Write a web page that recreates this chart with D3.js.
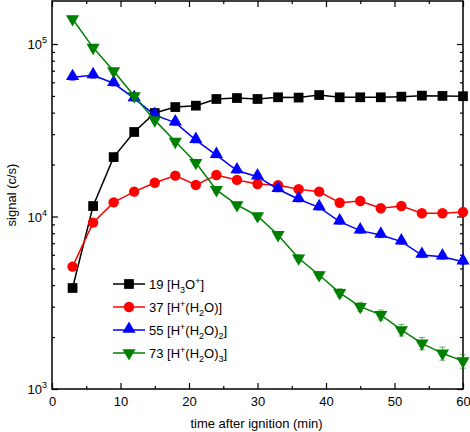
<!DOCTYPE html>
<html><head><meta charset="utf-8">
<script src="https://cdn.jsdelivr.net/npm/d3@7"></script>
<style>html,body{margin:0;padding:0;background:#fff}svg{display:block}text{font-family:"Liberation Sans",Arial,Helvetica,sans-serif}</style>
</head><body><svg id="c" width="470" height="432"></svg>
<script>
const times = [3,6,9,12,15,18,21,24,27,30,33,36,39,42,45,48,51,54,57,60];
const s19 = [3850,11500,22100,30900,39800,43100,43900,48000,48600,48000,49100,48900,50600,49100,49100,49100,49500,50200,50000,49800];
const s37 = [5120,9210,12080,13930,15700,17260,15240,17400,16300,15430,15170,14390,13930,12020,12300,11170,11510,10440,10440,10610];
const s55 = [64100,65800,59200,48400,38700,35000,27700,22700,18460,17020,14390,12590,11290,9330,8280,7820,7150,5980,5850,5470];
const s73 = [139700,95300,69700,50000,36200,27200,20500,14260,11670,10070,7820,5730,4580,3610,3000,2690,2200,1840,1610,1450];
const e55 = [2500,2500,2200,1800,1500,1300,1000,800,650,600,500,450,400,330,300,280,250,210,200,190];
const e73 = [5000,3500,2600,1800,1300,1000,700,500,450,400,330,260,220,200,180,180,170,150,140,130];
const xTicks = [0,10,20,30,40,50,60];
const xMinor = [5,15,25,35,45,55];
const yMajor = [1e3,1e4,1e5];
const names = ["19","37","55","73"];
const colors = ["#000000","#ff0000","#0000ff","#008000"];
const shapes = ["square","circle","triangle","triangleDown"];
const legendParts = [
  [["19 [H",""],["3","sub"],["O",""],["+","sup"],["]",""]],
  [["37 [H",""],["+","sup"],["(H",""],["2","sub"],["O)]",""]],
  [["55 [H",""],["+","sup"],["(H",""],["2","sub"],["O)",""],["2","sub"],["]",""]],
  [["73 [H",""],["+","sup"],["(H",""],["2","sub"],["O)",""],["3","sub"],["]",""]]
];
const series = [s19,s37,s55,s73];
const errs = [null,null,e55,e73];

const L=52,R=463,T=1,B=389;
const svg=d3.select("#c");
const x=d3.scaleLinear().domain([0,60]).range([L,R]);
const y=d3.scaleLog().domain([1e3,Math.pow(10,5+43/172.5)]).range([B,T]);

const yMinor=[];
[1e3,1e4,1e5].forEach(d=>{for(let k=2;k<=9;k++){const v=d*k; if(v<=y.domain()[1]) yMinor.push(v);}});

const g=svg.append("g");
g.append("g").attr("transform",`translate(0,${B})`).call(d3.axisBottom(x).tickValues(xTicks).tickSize(-6).tickPadding(8).tickFormat(d3.format("d")));
g.append("g").attr("transform",`translate(0,${B})`).call(d3.axisBottom(x).tickValues(xMinor).tickSize(-3).tickFormat(""));
g.append("g").attr("transform",`translate(0,${T})`).call(d3.axisTop(x).tickValues(xTicks).tickSize(-6).tickFormat(""));
g.append("g").attr("transform",`translate(0,${T})`).call(d3.axisTop(x).tickValues(xMinor).tickSize(-3).tickFormat(""));
g.append("g").attr("transform",`translate(${L},0)`).call(d3.axisLeft(y).tickValues(yMajor).tickSize(-6).tickFormat(""));
g.append("g").attr("transform",`translate(${L},0)`).call(d3.axisLeft(y).tickValues(yMinor).tickSize(-3).tickFormat(""));
g.append("g").attr("transform",`translate(${R},0)`).call(d3.axisRight(y).tickValues(yMajor).tickSize(-6).tickFormat(""));
g.append("g").attr("transform",`translate(${R},0)`).call(d3.axisRight(y).tickValues(yMinor).tickSize(-3).tickFormat(""));
g.selectAll(".domain").remove();
g.selectAll(".tick line").attr("stroke","#000").attr("stroke-width",1.2);
g.selectAll(".tick text").attr("font-size",13).attr("fill","#000").attr("font-family","'Liberation Sans',Arial,sans-serif");
svg.append("rect").attr("x",L).attr("y",T).attr("width",R-L).attr("height",B-T).attr("fill","none").attr("stroke","#000").attr("stroke-width",1.5);

yMajor.forEach(v=>{
  const t=svg.append("text").attr("x",L-5).attr("y",y(v)+5).attr("text-anchor","end").attr("font-size",13);
  t.append("tspan").text("10");
  t.append("tspan").attr("dy",-6).attr("font-size",9).text(String(Math.round(Math.log10(v))));
});

svg.append("text").attr("x",L+(R-L)/2-1).attr("y",428).attr("text-anchor","middle").attr("font-size",13).text("time after ignition (min)");
svg.append("text").attr("transform",`translate(16,${(T+B)/2}) rotate(-90)`).attr("text-anchor","middle").attr("font-size",13).text("signal (c/s)");

const sym={square:d3.symbolSquare,circle:d3.symbolCircle,triangle:d3.symbolTriangle,triangleDown:d3.symbolTriangle};
const sizes={square:95,circle:85,triangle:75,triangleDown:75};
function marker(sel,shape,color){
  sel.append("path").attr("d",d3.symbol().type(sym[shape]).size(sizes[shape])())
    .attr("fill",color).attr("stroke","none")
    .attr("transform",(shape==="triangleDown"?"rotate(180)":"")+(shape==="triangle"?" translate(0,-1)":""));
}
const plot=svg.append("g");
series.forEach((s,i)=>{
  const data=times.map((t,j)=>({t,v:s[j],e:errs[i]?errs[i][j]:0}));
  const line=d3.line().x(d=>x(d.t)).y(d=>y(d.v));
  plot.append("path").datum(data).attr("d",line).attr("fill","none").attr("stroke",colors[i]).attr("stroke-width",1.5);
  if(errs[i]){
    const eg=plot.append("g").attr("stroke",colors[i]).attr("stroke-opacity",0.6).attr("stroke-width",1);
    data.forEach(d=>{
      eg.append("line").attr("x1",x(d.t)).attr("x2",x(d.t)).attr("y1",y(d.v-d.e)).attr("y2",y(d.v+d.e));
      [d.v-d.e,d.v+d.e].forEach(vv=>eg.append("line").attr("x1",x(d.t)-3).attr("x2",x(d.t)+3).attr("y1",y(vv)).attr("y2",y(vv)));
    });
  }
  data.forEach(d=>{
    const m=plot.append("g").attr("transform",`translate(${x(d.t)},${y(d.v)})`);
    marker(m,shapes[i],colors[i]);
  });
});

const lg=svg.append("g");
const ly0=284, dly=23;
names.forEach((n,i)=>{
  const yy=ly0+i*dly;
  lg.append("line").attr("x1",113).attr("x2",145).attr("y1",yy).attr("y2",yy).attr("stroke",colors[i]).attr("stroke-width",1.5);
  const m=lg.append("g").attr("transform",`translate(129,${yy})`);
  marker(m,shapes[i],colors[i]);
  const t=lg.append("text").attr("x",149).attr("y",yy+5).attr("font-size",13);
  let shift=0;
  legendParts[i].forEach(([s,k])=>{
    const ts=t.append("tspan").text(s);
    let target=k==="sub"?4:(k==="sup"?-5:0);
    ts.attr("dy",target-shift); shift=target;
    if(k) ts.attr("font-size",9);
  });
});
</script></body></html>
